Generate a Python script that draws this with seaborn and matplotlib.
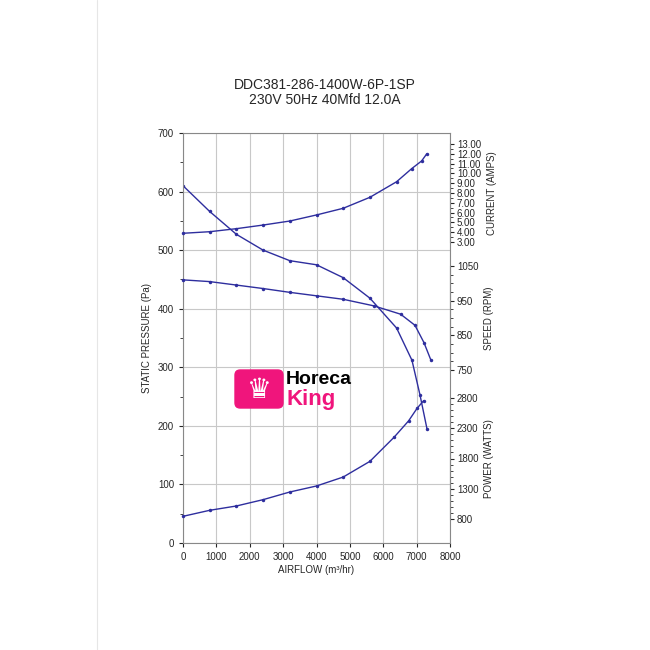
import numpy as np
import pandas as pd
import matplotlib
matplotlib.use("Agg")
import matplotlib.pyplot as plt
from matplotlib.patches import FancyBboxPatch
from matplotlib.ticker import MultipleLocator
import seaborn as sns

sns.set_style("white")
plt.rcParams['font.family'] = ['Liberation Sans', 'DejaVu Sans']

# data
pressure_flow = [0, 800, 1600, 2400, 3200, 4000, 4800, 5600, 6400, 6860, 7100, 7310]
pressure_pa = [610, 566, 527, 500, 482, 475, 453, 418, 367, 312, 253, 195]

speed_flow = [0, 800, 1600, 2400, 3200, 4000, 4800, 5720, 6520, 6950, 7220, 7430]
speed_rpm = [1010, 1005, 995, 985, 974, 964, 954, 935, 911, 879, 829, 778]

current_flow = [0, 800, 1600, 2400, 3200, 4000, 4800, 5600, 6400, 6850, 7150, 7300]
current_amps = [3.89, 4.05, 4.36, 4.73, 5.14, 5.76, 6.44, 7.56, 9.15, 10.48, 11.27, 11.98]

power_flow = [0, 800, 1600, 2400, 3200, 4000, 4800, 5600, 6320, 6760, 7010, 7210]
power_watts = [849, 948, 1019, 1123, 1249, 1348, 1495, 1753, 2147, 2419, 2623, 2751]

current_ticks = [3, 4, 5, 6, 7, 8, 9, 10, 11, 12, 13]
speed_ticks = [750, 850, 950, 1050]
power_ticks = [800, 1300, 1800, 2300, 2800]

line_col = "#2e2e9e"
fs = 7

fig = plt.figure(figsize=(6.5, 6.5), dpi=100)
fig.add_artist(plt.Line2D([97 / 650, 97 / 650], [0, 1], color="#e6e6e6", lw=0.8))

ax = fig.add_axes([183 / 650, 107 / 650, 267 / 650, 410 / 650])
ax.set_xlim(0, 8000)
ax.set_ylim(0, 700)
ax.xaxis.set_major_locator(MultipleLocator(1000))
ax.yaxis.set_major_locator(MultipleLocator(100))
ax.yaxis.set_minor_locator(MultipleLocator(50))
ax.grid(True, which="major", color="#c8c8c8", lw=0.8)
ax.tick_params(labelsize=fs, length=3, direction="out", left=True, bottom=True)
ax.tick_params(which="minor", length=2, left=True)
for s in ax.spines.values():
    s.set_color("#888888")
ax.set_xlabel("AIRFLOW (m³/hr)", fontsize=fs, labelpad=2)
ax.set_ylabel("STATIC PRESSURE (Pa)", fontsize=fs)
sns.lineplot(x=pressure_flow, y=pressure_pa, ax=ax, color=line_col, lw=1,
             marker="o", markersize=2.5, markeredgewidth=0)


def side_axis(bottom_px, top_px, ticks, minor, label, fmt, xs, ys):
    a = fig.add_axes([183 / 650, (650 - bottom_px) / 650, 267 / 650,
                      (bottom_px - top_px) / 650])
    a.patch.set_alpha(0)
    a.set_xlim(0, 8000)
    a.set_ylim(ticks[0], ticks[-1])
    for k in ["left", "top", "bottom"]:
        a.spines[k].set_visible(False)
    a.spines["right"].set_color("#888888")
    a.set_xticks([])
    a.yaxis.tick_right()
    a.yaxis.set_label_position("right")
    a.set_yticks(ticks)
    a.set_yticks(np.arange(ticks[0], ticks[-1] + minor / 2, minor), minor=True)
    a.yaxis.set_major_formatter(fmt)
    a.tick_params(labelsize=fs, length=3, right=True, left=False, pad=2)
    a.tick_params(which="minor", length=2, right=True, left=False)
    a.set_ylabel(label, fontsize=fs)
    sns.lineplot(x=xs, y=ys, ax=a, color=line_col, lw=1, marker="o",
                 markersize=2.5, markeredgewidth=0, clip_on=False)
    return a


side_axis(242, 144, current_ticks, 0.5, "CURRENT (AMPS)", "{x:.2f}", current_flow, current_amps)
side_axis(370, 266, speed_ticks, 25, "SPEED (RPM)", "{x:.0f}", speed_flow, speed_rpm)
side_axis(519.3, 397.7, power_ticks, 100, "POWER (WATTS)", "{x:.0f}", power_flow, power_watts)

# logo
fig.add_artist(FancyBboxPatch((235 / 650, (650 - 408) / 650), 48 / 650, 38 / 650,
                              boxstyle="round,pad=0,rounding_size=0.008",
                              transform=fig.transFigure, color="#f0157c"))
fig.text(259 / 650, (650 - 390) / 650, "♛", color="white", fontsize=20,
         ha="center", va="center", family=["DejaVu Sans"])
fig.text(286 / 650, (650 - 380) / 650, "Horeca", fontsize=14, weight="bold",
         color="black", va="center")
fig.text(286 / 650, (650 - 399) / 650, "King", fontsize=16, weight="bold",
         color="#f0157c", va="center")

fig.text(325 / 650, (650 - 85) / 650, "DDC381-286-1400W-6P-1SP", fontsize=10,
         ha="center", va="center")
fig.text(325 / 650, (650 - 100) / 650, "230V 50Hz 40Mfd 12.0A", fontsize=10,
         ha="center", va="center")

fig.savefig("out.png", dpi=100)
